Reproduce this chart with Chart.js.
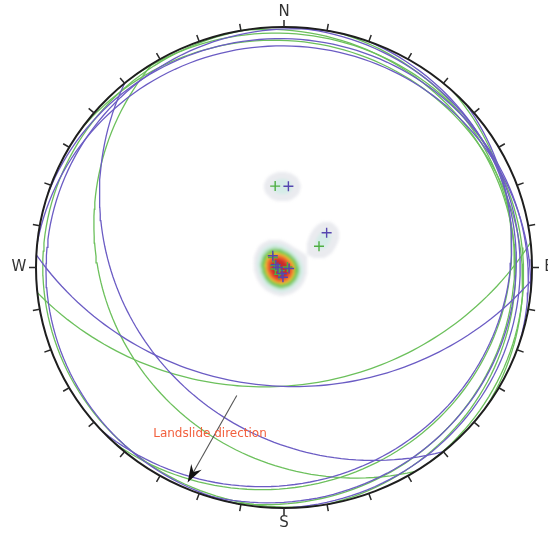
<!DOCTYPE html>
<html>
<head>
<meta charset="utf-8">
<script src="https://cdn.jsdelivr.net/npm/chart.js@4.4.1/dist/chart.umd.min.js"></script>
<style>
  html, body { margin: 0; padding: 0; background: #ffffff; }
  canvas { display: block; }
</style>
</head>
<body>
<canvas id="stereo" width="548" height="533"></canvas>
<script>
// Discontinuity planes, set A (green): dip direction / dip in degrees
const setADipDir = [174, 238, 133, 103, 53, 35, 262, 80];
const setADip    = [37.6, 18.9, 7.0, 4.3, 2.5, 4.0, 1.6, 4.0];

// Discontinuity planes, set B (purple): dip direction / dip in degrees
const setBDipDir = [183, 230, 137, 90, 281, 18, 6, 110];
const setBDip    = [37.4, 25.3, 7.6, 2.8, 2.4, 3.0, 4.7, 4.0];

// Compass labels around the primitive and tick spacing (degrees)
const compassLabels = ['N', 'E', 'S', 'W'];
const tickStepDeg = 10;

// Landslide annotation: arrow given as [trend, normalised radius]
const landslideText = 'Landslide direction';
const landslideTail = [199.7, 0.565];
const landslideHead = [203.5, 0.975];

// Density contour levels (kernel-weighted pole count) and their fills
const densityLevels = [0.55, 1.2, 2.0, 2.7, 3.6, 4.2, 5.2, 6.6];
const densityFills  = ['#eaebef', '#d5ece8', '#addcb0', '#62bf4e', '#e8dc3a', '#f29632', '#e85a2c', '#c92a2a'];

const GREEN = '#6cc05c';
const PURPLE = '#6b5cc4';

const rad = d => d * Math.PI / 180;

// Lower-hemisphere equal-angle projection of a unit vector (east, north, down)
function project(e, n, d) {
  return { x: e / (1 + d), y: n / (1 + d) };
}

// Great circle of a plane, traced through every line lying in it
function greatCircle(dipDir, dip) {
  const s = rad(dipDir - 90), a = rad(dipDir), b = rad(dip);
  const pts = [];
  for (let k = 0; k <= 180; k += 2) {
    const t = rad(k);
    const e = Math.cos(t) * Math.sin(s) + Math.sin(t) * Math.sin(a) * Math.cos(b);
    const n = Math.cos(t) * Math.cos(s) + Math.sin(t) * Math.cos(a) * Math.cos(b);
    const d = Math.sin(t) * Math.sin(b);
    pts.push(project(e, n, d));
  }
  return pts;
}

// Pole (normal) of a plane
function poleOf(dipDir, dip) {
  const a = rad(dipDir), b = rad(dip);
  return project(-Math.sin(a) * Math.sin(b), -Math.cos(a) * Math.sin(b), Math.cos(b));
}

const polesA = setADipDir.map((dd, i) => poleOf(dd, setADip[i]));
const polesB = setBDipDir.map((dd, i) => poleOf(dd, setBDip[i]));
const allPoles = polesA.concat(polesB);

const datasets = [];
datasets.push({ label: 'Poles B', data: polesB, showLine: false, pointStyle: 'cross',
  pointRadius: 5, borderColor: '#5646b0', borderWidth: 1.4, order: 0 });
datasets.push({ label: 'Poles A', data: polesA, showLine: false, pointStyle: 'cross',
  pointRadius: 5, borderColor: '#4fae42', borderWidth: 1.4, order: 0 });
setADipDir.forEach((dd, i) => datasets.push({
  label: 'A' + i, data: greatCircle(dd, setADip[i]), showLine: true, pointRadius: 0,
  borderColor: GREEN, borderWidth: 1.3, tension: 0, order: 2 }));
setBDipDir.forEach((dd, i) => datasets.push({
  label: 'B' + i, data: greatCircle(dd, setBDip[i]), showLine: true, pointRadius: 0,
  borderColor: PURPLE, borderWidth: 1.3, tension: 0, order: 1 }));

function hexRgb(h) {
  const v = parseInt(h.slice(1), 16);
  return [(v >> 16) & 255, (v >> 8) & 255, v & 255];
}

// Kernel density of the poles, painted as filled contour bands
const densityPlugin = {
  id: 'poleDensity',
  beforeDatasetsDraw(chart) {
    const { ctx, chartArea, scales } = chart;
    const sx = scales.x, sy = scales.y;
    const pts = allPoles.map(p => [sx.getPixelForValue(p.x), sy.getPixelForValue(p.y)]);
    const W = chart.width, H = chart.height;
    const off = document.createElement('canvas');
    off.width = W; off.height = H;
    const octx = off.getContext('2d');
    const img = octx.createImageData(W, H);
    const sigma = 10, s2 = 2 * sigma * sigma;
    const fills = densityFills.map(hexRgb);
    const x0 = Math.floor(chartArea.left), x1 = Math.ceil(chartArea.right);
    const y0 = Math.floor(chartArea.top), y1 = Math.ceil(chartArea.bottom);
    for (let py = y0; py < y1; py++) {
      for (let px = x0; px < x1; px++) {
        let dsum = 0;
        for (const p of pts) {
          const dx = px - p[0], dy = py - p[1];
          const q = (dx * dx + dy * dy) / s2;
          if (q < 12) dsum += Math.exp(-q);
        }
        let lvl = -1;
        for (let k = 0; k < densityLevels.length; k++) if (dsum >= densityLevels[k]) lvl = k;
        if (lvl >= 0) {
          const o = (py * W + px) * 4, c = fills[lvl];
          img.data[o] = c[0]; img.data[o + 1] = c[1]; img.data[o + 2] = c[2]; img.data[o + 3] = 255;
        }
      }
    }
    octx.putImageData(img, 0, 0);
    ctx.save();
    ctx.filter = 'blur(1.5px)';
    ctx.drawImage(off, 0, 0);
    ctx.restore();
  }
};

// Primitive circle, 10-degree ticks, compass letters and landslide arrow
const framePlugin = {
  id: 'stereoFrame',
  afterDatasetsDraw(chart) {
    const { ctx, scales } = chart;
    const sx = scales.x, sy = scales.y;
    const cx = sx.getPixelForValue(0), cy = sy.getPixelForValue(0);
    const rx = sx.getPixelForValue(1) - cx, ry = cy - sy.getPixelForValue(1);
    ctx.save();
    ctx.beginPath();
    ctx.ellipse(cx, cy, rx, ry, 0, 0, Math.PI * 2);
    ctx.strokeStyle = '#1e1e1e';
    ctx.lineWidth = 2;
    ctx.stroke();

    ctx.beginPath();
    for (let az = 0; az < 360; az += tickStepDeg) {
      const u = Math.sin(rad(az)), v = -Math.cos(rad(az));
      ctx.moveTo(cx + rx * u, cy + ry * v);
      ctx.lineTo(cx + (rx + 7) * u, cy + (ry + 7) * v);
    }
    ctx.lineWidth = 1.5;
    ctx.strokeStyle = '#2a2a2a';
    ctx.stroke();

    ctx.fillStyle = '#333333';
    ctx.font = '15px "DejaVu Sans", sans-serif';
    ctx.textAlign = 'center';
    ctx.textBaseline = 'middle';
    compassLabels.forEach((lab, i) => {
      const az = i * 90;
      const u = Math.sin(rad(az)), v = -Math.cos(rad(az));
      const gap = (i % 2 === 0) ? 15 : 17;
      ctx.fillText(lab, cx + (rx + gap) * u, cy + (ry + gap) * v);
    });

    // arrow
    const toPix = (tr, r) => [sx.getPixelForValue(r * Math.sin(rad(tr))), sy.getPixelForValue(r * Math.cos(rad(tr)))];
    const [tx, ty] = toPix(landslideTail[0], landslideTail[1]);
    const [hx, hy] = toPix(landslideHead[0], landslideHead[1]);
    const ang = Math.atan2(hy - ty, hx - tx);
    ctx.beginPath();
    ctx.moveTo(tx, ty);
    ctx.lineTo(hx - 10 * Math.cos(ang), hy - 10 * Math.sin(ang));
    ctx.strokeStyle = '#555555';
    ctx.lineWidth = 1.1;
    ctx.stroke();
    const L = 18, w = 6;
    const bx = hx - L * Math.cos(ang), by = hy - L * Math.sin(ang);
    const nx = -Math.sin(ang), ny = Math.cos(ang);
    const mx = hx - (L - 6) * Math.cos(ang), my = hy - (L - 6) * Math.sin(ang);
    ctx.beginPath();
    ctx.moveTo(hx, hy);
    ctx.lineTo(bx + nx * w, by + ny * w);
    ctx.lineTo(mx, my);
    ctx.lineTo(bx - nx * w, by - ny * w);
    ctx.closePath();
    ctx.fillStyle = '#111111';
    ctx.fill();

    ctx.font = '12px "DejaVu Sans", sans-serif';
    ctx.fillStyle = '#f2603e';
    ctx.textAlign = 'center';
    ctx.fillText(landslideText, 210, 434);
    ctx.restore();
  }
};

new Chart(document.getElementById('stereo'), {
  type: 'scatter',
  data: { datasets },
  options: {
    responsive: false,
    animation: false,
    devicePixelRatio: 1,
    layout: { padding: { left: 36, right: 16, top: 27, bottom: 25 } },
    scales: {
      x: { type: 'linear', min: -1, max: 1, display: false },
      y: { type: 'linear', min: -1, max: 1, display: false }
    },
    plugins: { legend: { display: false }, tooltip: { enabled: false } },
    elements: { line: { fill: false } }
  },
  plugins: [densityPlugin, framePlugin]
});
</script>
</body>
</html>
